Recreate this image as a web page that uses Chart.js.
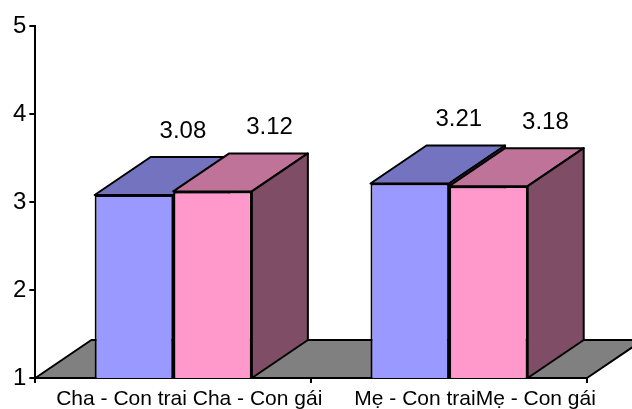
<!DOCTYPE html>
<html>
<head>
<meta charset="utf-8">
<script src="https://cdn.jsdelivr.net/npm/chart.js@4"></script>
<style>
  html, body { margin: 0; padding: 0; background: #fff; }
  #wrap { width: 632px; height: 409px; }
</style>
</head>
<body>
<div id="wrap"><canvas id="chart"></canvas></div>
<script>
const categories = ['Cha - Con trai Cha - Con gái', 'Mẹ - Con traiMẹ - Con gái'];
const seriesNames = ['Con trai', 'Con gái'];
const sonValues = [3.08, 3.21];
const daughterValues = [3.12, 3.18];
const yTicks = [1, 2, 3, 4, 5];

const FONT = "'Liberation Sans', Arial, sans-serif";
// fake 3d depth, in pixels
const depthX = 56, depthY = 38;
const faces = [
  { front: '#9999ff', top: '#7373bf', side: '#4d4d80', labelShift: -7 },
  { front: '#ff99cc', top: '#bf7399', side: '#804d66', labelShift: 1 }
];
// category labels sit a bit right of the category centre (like excel's 3d axis)
const catLabelShift = [16, 26];

function poly(ctx, pts, fill) {
  ctx.beginPath();
  ctx.moveTo(pts[0][0], pts[0][1]);
  for (let k = 1; k < pts.length; k++) ctx.lineTo(pts[k][0], pts[k][1]);
  ctx.closePath();
  ctx.fillStyle = fill;
  ctx.fill();
  ctx.stroke();
}

const box3d = {
  id: 'box3d',
  beforeDatasetsDraw(chart) {
    const { ctx, chartArea, scales } = chart;
    const yb = scales.y.getPixelForValue(scales.y.min);
    ctx.save();
    ctx.lineWidth = 2;
    ctx.strokeStyle = '#000';
    ctx.lineJoin = 'round';
    // floor
    poly(ctx, [[chartArea.left, yb], [chartArea.right, yb],
      [chartArea.right + depthX, yb - depthY], [chartArea.left + depthX, yb - depthY]], '#808080');
    // tops and sides, front faces come from the bars themselves
    categories.forEach((c, i) => {
      chart.data.datasets.forEach((ds, d) => {
        const bar = chart.getDatasetMeta(d).data[i];
        const l = bar.x - bar.width / 2, r = bar.x + bar.width / 2;
        const t = bar.y, b = Math.min(bar.base, yb);
        poly(ctx, [[l, t], [l + depthX, t - depthY], [r + depthX, t - depthY], [r, t]], faces[d].top);
        poly(ctx, [[r, t], [r + depthX, t - depthY], [r + depthX, b - depthY], [r, b]], faces[d].side);
      });
    });
    ctx.restore();
  },
  afterDatasetsDraw(chart) {
    const { ctx, scales } = chart;
    ctx.save();
    ctx.fillStyle = '#000';
    ctx.textAlign = 'center';
    ctx.font = '24px ' + FONT;
    ctx.textBaseline = 'middle';
    chart.data.datasets.forEach((ds, d) => {
      chart.getDatasetMeta(d).data.forEach((bar, i) => {
        ctx.fillText(ds.data[i].toFixed(2), bar.x + depthX + faces[d].labelShift, bar.y - depthY - 26);
      });
    });
    // category labels
    ctx.font = '21px ' + FONT;
    ctx.textBaseline = 'alphabetic';
    categories.forEach((c, i) => {
      ctx.fillText(c, scales.x.getPixelForValue(i) + catLabelShift[i], scales.x.bottom + 22);
    });
    ctx.restore();
  }
};

new Chart(document.getElementById('chart'), {
  type: 'bar',
  data: {
    labels: categories,
    datasets: [
      { label: seriesNames[0], data: sonValues, backgroundColor: faces[0].front },
      { label: seriesNames[1], data: daughterValues, backgroundColor: faces[1].front }
    ]
  },
  options: {
    responsive: true,
    maintainAspectRatio: false,
    animation: false,
    layout: { padding: { top: 26, right: 45, left: 10, bottom: 26 } },
    datasets: {
      bar: {
        borderColor: '#000',
        borderWidth: 2,
        borderSkipped: false,
        categoryPercentage: 0.57,
        barPercentage: 1.0
      }
    },
    plugins: {
      legend: { display: false },
      tooltip: { enabled: false }
    },
    scales: {
      x: {
        grid: { offset: true, drawOnChartArea: false, tickLength: 5, color: '#000', lineWidth: 2 },
        border: { color: '#000', width: 2 },
        ticks: { display: false }
      },
      y: {
        min: yTicks[0],
        max: yTicks[yTicks.length - 1],
        afterBuildTicks(axis) { axis.ticks = yTicks.map(v => ({ value: v })); },
        grid: { drawOnChartArea: false, tickLength: 6, color: '#000', lineWidth: 2 },
        border: { color: '#000', width: 2 },
        ticks: { color: '#000', font: { family: FONT, size: 24 }, padding: 3 }
      }
    }
  },
  plugins: [box3d]
});
</script>
</body>
</html>
